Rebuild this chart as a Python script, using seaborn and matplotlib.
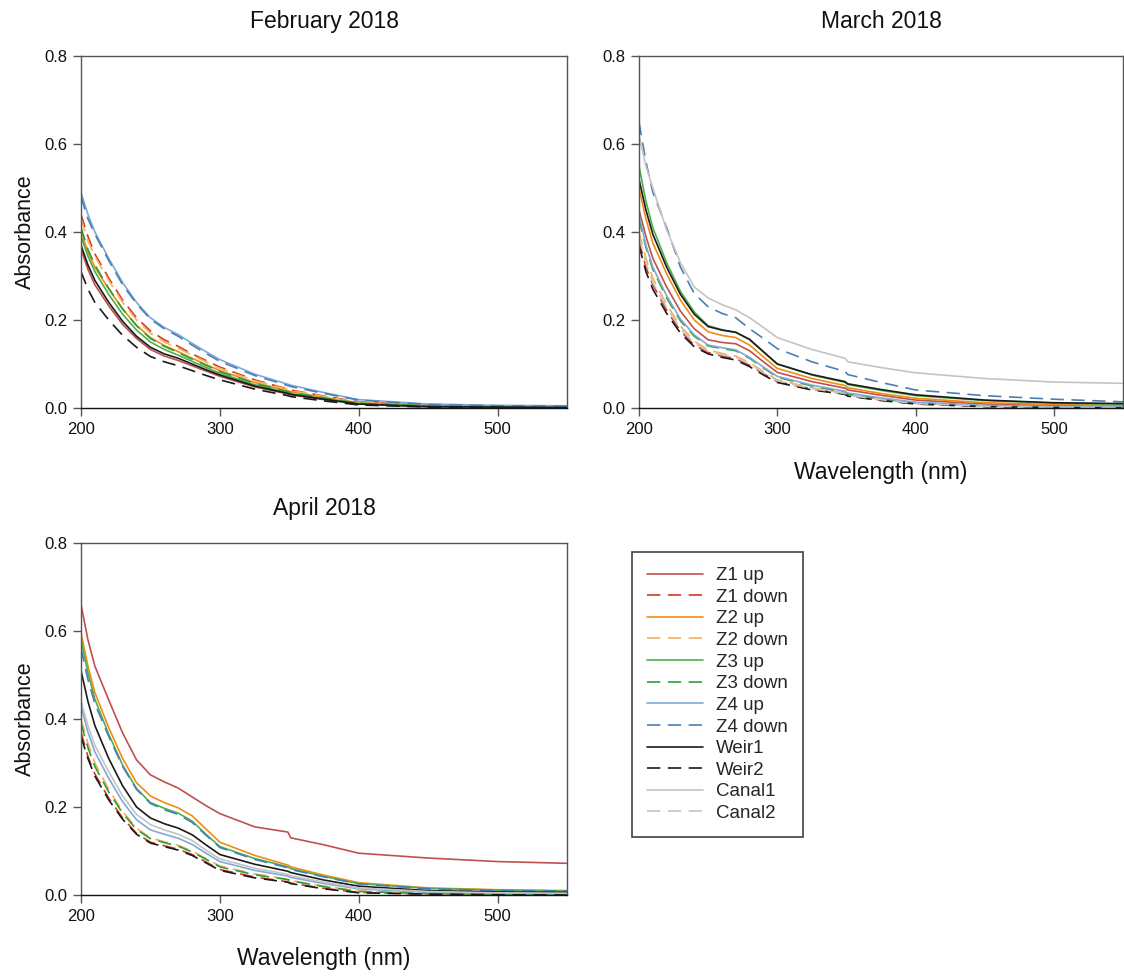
import numpy as np
import pandas as pd
import seaborn as sns
import matplotlib
matplotlib.use("Agg")
import matplotlib.pyplot as plt

sns.set_theme(style="white")
plt.rcParams["font.family"] = ["Liberation Sans", "DejaVu Sans"]

# Wavelength grid (nm) at which spectra were sampled
wavelength = [200, 205, 210, 220, 230, 240, 250, 260, 270, 280, 290, 300, 325, 349, 351, 375, 400, 450, 500, 550]

sites = ["Z1 up", "Z1 down", "Z2 up", "Z2 down", "Z3 up", "Z3 down",
         "Z4 up", "Z4 down", "Weir1", "Weir2", "Canal1", "Canal2"]

# February 2018 absorbance
feb = {
    "Z4 up":   [0.49, 0.44, 0.40, 0.34, 0.285, 0.24, 0.205, 0.183, 0.167, 0.147, 0.128, 0.110, 0.077, 0.054, 0.052, 0.035, 0.019, 0.009, 0.006, 0.005],
    "Z4 down": [0.48, 0.43, 0.395, 0.335, 0.28, 0.237, 0.202, 0.18, 0.163, 0.143, 0.124, 0.106, 0.074, 0.051, 0.049, 0.033, 0.018, 0.008, 0.005, 0.004],
    "Z1 down": [0.44, 0.39, 0.35, 0.295, 0.245, 0.205, 0.175, 0.155, 0.14, 0.123, 0.108, 0.093, 0.064, 0.043, 0.041, 0.027, 0.014, 0.006, 0.004, 0.003],
    "Z2 down": [0.43, 0.38, 0.345, 0.29, 0.24, 0.20, 0.17, 0.15, 0.136, 0.12, 0.105, 0.09, 0.062, 0.042, 0.040, 0.026, 0.013, 0.006, 0.004, 0.003],
    "Z2 up":   [0.40, 0.355, 0.32, 0.27, 0.225, 0.188, 0.16, 0.142, 0.128, 0.113, 0.099, 0.085, 0.058, 0.039, 0.037, 0.024, 0.012, 0.005, 0.003, 0.002],
    "Z3 down": [0.41, 0.36, 0.325, 0.272, 0.225, 0.187, 0.158, 0.14, 0.126, 0.111, 0.097, 0.083, 0.056, 0.037, 0.035, 0.023, 0.011, 0.005, 0.003, 0.002],
    "Z3 up":   [0.39, 0.345, 0.31, 0.258, 0.213, 0.177, 0.15, 0.133, 0.12, 0.106, 0.092, 0.079, 0.053, 0.035, 0.033, 0.021, 0.010, 0.004, 0.003, 0.002],
    "Weir1":   [0.37, 0.325, 0.29, 0.24, 0.197, 0.163, 0.138, 0.123, 0.113, 0.10, 0.087, 0.075, 0.05, 0.033, 0.031, 0.02, 0.009, 0.003, 0.002, 0.001],
    "Z1 up":   [0.36, 0.315, 0.28, 0.232, 0.19, 0.158, 0.133, 0.118, 0.108, 0.096, 0.084, 0.072, 0.048, 0.032, 0.030, 0.019, 0.009, 0.003, 0.002, 0.001],
    "Weir2":   [0.31, 0.27, 0.24, 0.20, 0.165, 0.138, 0.117, 0.105, 0.096, 0.085, 0.074, 0.064, 0.043, 0.028, 0.026, 0.016, 0.007, 0.002, 0.001, 0.0],
}

# March 2018 absorbance
mar = {
    "Z4 down": [0.65, 0.56, 0.49, 0.41, 0.32, 0.26, 0.23, 0.215, 0.205, 0.18, 0.158, 0.135, 0.105, 0.083, 0.076, 0.058, 0.041, 0.028, 0.02, 0.014],
    "Canal1":  [0.62, 0.55, 0.50, 0.405, 0.33, 0.275, 0.25, 0.235, 0.223, 0.205, 0.183, 0.16, 0.133, 0.113, 0.105, 0.092, 0.08, 0.067, 0.059, 0.056],
    "Z3 up":   [0.55, 0.47, 0.41, 0.33, 0.265, 0.218, 0.187, 0.178, 0.172, 0.155, 0.127, 0.10, 0.075, 0.058, 0.053, 0.04, 0.028, 0.017, 0.011, 0.009],
    "Weir1":   [0.52, 0.45, 0.395, 0.32, 0.258, 0.213, 0.185, 0.177, 0.172, 0.156, 0.128, 0.10, 0.076, 0.06, 0.055, 0.042, 0.03, 0.018, 0.012, 0.01],
    "Z2 up":   [0.50, 0.43, 0.375, 0.305, 0.245, 0.20, 0.173, 0.165, 0.16, 0.143, 0.116, 0.09, 0.067, 0.051, 0.046, 0.033, 0.022, 0.012, 0.008, 0.006],
    "Z1 up":   [0.45, 0.39, 0.34, 0.275, 0.22, 0.18, 0.155, 0.149, 0.146, 0.13, 0.105, 0.081, 0.06, 0.045, 0.041, 0.029, 0.018, 0.009, 0.005, 0.004],
    "Z4 up":   [0.44, 0.37, 0.32, 0.255, 0.202, 0.166, 0.143, 0.137, 0.132, 0.115, 0.093, 0.072, 0.052, 0.038, 0.034, 0.023, 0.013, 0.006, 0.003, 0.002],
    "Z3 down": [0.43, 0.365, 0.315, 0.25, 0.198, 0.163, 0.141, 0.135, 0.13, 0.113, 0.091, 0.07, 0.05, 0.036, 0.032, 0.021, 0.012, 0.005, 0.003, 0.002],
    "Z2 down": [0.40, 0.34, 0.295, 0.235, 0.186, 0.152, 0.132, 0.124, 0.118, 0.103, 0.083, 0.064, 0.046, 0.034, 0.03, 0.02, 0.011, 0.005, 0.003, 0.002],
    "Canal2":  [0.39, 0.33, 0.285, 0.228, 0.18, 0.147, 0.129, 0.121, 0.115, 0.10, 0.08, 0.062, 0.044, 0.033, 0.029, 0.019, 0.01, 0.004, 0.002, 0.001],
    "Z1 down": [0.38, 0.32, 0.28, 0.222, 0.175, 0.143, 0.126, 0.118, 0.112, 0.097, 0.078, 0.06, 0.043, 0.032, 0.028, 0.018, 0.01, 0.004, 0.002, 0.001],
    "Weir2":   [0.37, 0.31, 0.27, 0.215, 0.17, 0.139, 0.123, 0.115, 0.109, 0.094, 0.075, 0.058, 0.041, 0.031, 0.027, 0.017, 0.009, 0.003, 0.001, 0.0],
}

# April 2018 absorbance
apr = {
    "Z1 up":   [0.66, 0.58, 0.52, 0.443, 0.368, 0.307, 0.273, 0.257, 0.243, 0.223, 0.203, 0.185, 0.155, 0.143, 0.13, 0.114, 0.095, 0.084, 0.076, 0.072],
    "Z2 up":   [0.595, 0.52, 0.46, 0.38, 0.31, 0.255, 0.225, 0.21, 0.198, 0.18, 0.15, 0.12, 0.09, 0.068, 0.064, 0.045, 0.028, 0.016, 0.012, 0.01],
    "Z3 up":   [0.58, 0.505, 0.445, 0.365, 0.295, 0.242, 0.21, 0.197, 0.186, 0.168, 0.138, 0.11, 0.083, 0.064, 0.06, 0.042, 0.026, 0.015, 0.011, 0.009],
    "Z4 down": [0.56, 0.49, 0.435, 0.36, 0.292, 0.24, 0.208, 0.194, 0.183, 0.165, 0.136, 0.108, 0.081, 0.062, 0.058, 0.041, 0.025, 0.014, 0.01, 0.009],
    "Weir1":   [0.51, 0.44, 0.385, 0.31, 0.248, 0.20, 0.175, 0.162, 0.152, 0.137, 0.114, 0.092, 0.07, 0.054, 0.051, 0.034, 0.02, 0.01, 0.007, 0.006],
    "Canal1":  [0.44, 0.385, 0.34, 0.28, 0.225, 0.183, 0.16, 0.148, 0.138, 0.124, 0.102, 0.082, 0.061, 0.047, 0.044, 0.029, 0.016, 0.008, 0.005, 0.004],
    "Z4 up":   [0.43, 0.37, 0.325, 0.265, 0.212, 0.171, 0.148, 0.138, 0.129, 0.115, 0.095, 0.076, 0.056, 0.043, 0.04, 0.026, 0.014, 0.006, 0.004, 0.003],
    "Z2 down": [0.40, 0.345, 0.30, 0.24, 0.19, 0.152, 0.13, 0.121, 0.113, 0.10, 0.083, 0.066, 0.048, 0.036, 0.033, 0.02, 0.009, 0.003, 0.002, 0.001],
    "Z3 down": [0.39, 0.335, 0.292, 0.234, 0.186, 0.149, 0.128, 0.119, 0.111, 0.098, 0.081, 0.064, 0.046, 0.035, 0.032, 0.019, 0.008, 0.003, 0.002, 0.001],
    "Z1 down": [0.37, 0.315, 0.275, 0.22, 0.175, 0.14, 0.12, 0.112, 0.104, 0.092, 0.075, 0.058, 0.041, 0.03, 0.027, 0.015, 0.006, 0.002, 0.001, 0.001],
    "Weir2":   [0.36, 0.31, 0.27, 0.216, 0.172, 0.138, 0.118, 0.11, 0.102, 0.09, 0.073, 0.056, 0.039, 0.029, 0.026, 0.014, 0.005, 0.002, 0.001, 0.0],
}

palette = {
    "Z1 up": "#c0504d", "Z1 down": "#d2382a",
    "Z2 up": "#f08c10", "Z2 down": "#f4b05a",
    "Z3 up": "#4caf50", "Z3 down": "#2f9e3a",
    "Z4 up": "#7fa9d6", "Z4 down": "#4a7fb5",
    "Weir1": "#1a1a1a", "Weir2": "#1a1a1a",
    "Canal1": "#c4c4c4", "Canal2": "#c4c4c4",
}
dash = (8, 4.5)
dashes = {s: (dash if ("down" in s or s in ("Weir2", "Canal2")) else "") for s in sites}


def to_long(block):
    rows = []
    for site, vals in block.items():
        for w, v in zip(wavelength, vals):
            rows.append((site, w, v))
    return pd.DataFrame(rows, columns=["site", "wavelength", "absorbance"])


fig = plt.figure(figsize=(11.24, 9.76), dpi=100)
W, H = 1124, 976
ax_feb = fig.add_axes([81 / W, 1 - 408 / H, 486 / W, 352 / H])
ax_mar = fig.add_axes([639 / W, 1 - 408 / H, 484 / W, 352 / H])
ax_apr = fig.add_axes([81 / W, 1 - 895 / H, 486 / W, 352 / H])

panels = [
    (ax_feb, feb, "February 2018", False),
    (ax_mar, mar, "March 2018", True),
    (ax_apr, apr, "April 2018", True),
]

for ax, block, title, xlab in panels:
    df = to_long(block)
    order = [s for s in sites if s in block]
    sns.lineplot(data=df, x="wavelength", y="absorbance", hue="site", style="site",
                 hue_order=order, style_order=order, palette=palette, dashes=dashes,
                 linewidth=1.2, ax=ax, legend=(ax is ax_mar), estimator=None, sort=False)
    ax.set_xlim(200, 550)
    ax.set_ylim(0, 0.8)
    ax.set_xticks([200, 300, 400, 500])
    ax.set_yticks([0.0, 0.2, 0.4, 0.6, 0.8])
    ax.set_yticklabels(["0.0", "0.2", "0.4", "0.6", "0.8"])
    ax.set_title(title, fontsize=16.5, pad=20, color="#111111")
    ax.set_xlabel("Wavelength (nm)" if xlab else "", fontsize=16.5, labelpad=17, color="#111111")
    ax.set_ylabel("Absorbance" if ax is not ax_mar else "", fontsize=15.5, labelpad=6, color="#111111")
    ax.tick_params(axis="both", direction="out", length=6, width=1, color="#555555",
                   labelsize=12, labelcolor="#111111", bottom=True, left=True, pad=4)
    for sp in ax.spines.values():
        sp.set_color("#555555")
        sp.set_linewidth(1.0)
    ax.spines["bottom"].set_color("#111111")

handles, labels = ax_mar.get_legend_handles_labels()
ax_mar.get_legend().remove()
hmap = dict(zip(labels, handles))
leg = fig.legend([hmap[s] for s in sites], sites, loc="upper left",
                 bbox_to_anchor=(632 / W, 1 - 552 / H), bbox_transform=fig.transFigure,
                 frameon=True, fancybox=False, fontsize=13.5, handlelength=3.0,
                 handletextpad=0.7, labelspacing=0.24, borderpad=0.8, borderaxespad=0)
leg.get_frame().set_edgecolor("#111111")
leg.get_frame().set_linewidth(1.2)
for line in leg.get_lines():
    line.set_linewidth(1.2)

fig.savefig("out.png", dpi=100, facecolor="white")
